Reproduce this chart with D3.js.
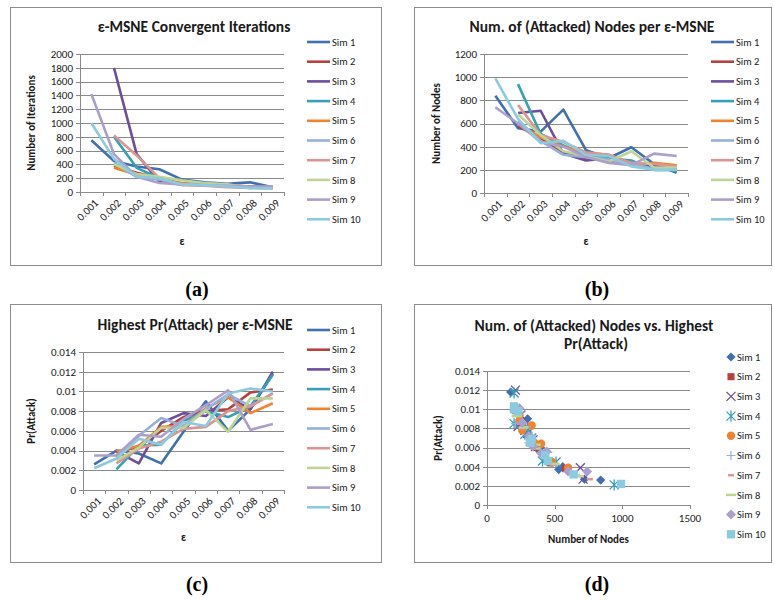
<!DOCTYPE html>
<html><head><meta charset="utf-8">
<script src="https://cdn.jsdelivr.net/npm/d3@7/dist/d3.min.js"></script>
<style>
body{margin:0;background:#fff;}
svg text{font-family:Carlito,Lato,"Liberation Sans",sans-serif;fill:#1a1a1a;}
</style></head><body>
<svg id="c" width="774" height="601"></svg>
<script>
// ---------- DATA ----------
const epsilons = ["0.001","0.002","0.003","0.004","0.005","0.006","0.007","0.008","0.009"];
const simNames = ["Sim 1","Sim 2","Sim 3","Sim 4","Sim 5","Sim 6","Sim 7","Sim 8","Sim 9","Sim 10"];
const simColors = ["#4170B0","#B8413E","#6E4E9A","#35A0B7","#F08230","#95B0DB","#DB9593","#BCD494","#AC9FCB","#8CCBDF"];

// Number of iterations per epsilon (null = no value)
const iterSim1  = [750, 450, 370, 330, 180, 140, 120, 140, 70];
const iterSim2  = [null, 380, 280, 200, 120, 100, 80, 70, 60];
const iterSim3  = [null, 1800, 550, 150, 110, 100, 90, 80, 70];
const iterSim4  = [null, 800, 350, 200, 120, 100, 90, 70, 60];
const iterSim5  = [null, 350, 250, 180, 130, 110, 100, 80, 60];
const iterSim6  = [null, 420, 220, 180, 110, 100, 90, 60, 50];
const iterSim7  = [null, 820, 530, 200, 100, 90, 70, 60, 80];
const iterSim8  = [null, 400, 260, 220, 170, 130, 110, 60, 50];
const iterSim9  = [1420, 550, 220, 130, 110, 100, 90, 80, 80];
const iterSim10 = [1000, 480, 220, 200, 110, 100, 80, 60, 50];

// Number of (attacked) nodes per epsilon
const nodesSim1  = [840, 560, 530, 720, 370, 300, 395, 250, 175];
const nodesSim2  = [null, 580, 470, 350, 300, 280, 260, 210, 200];
const nodesSim3  = [null, 690, 710, 340, 280, 300, 250, 230, 210];
const nodesSim4  = [null, 940, 510, 410, 330, 300, 280, 200, 200];
const nodesSim5  = [null, 600, 480, 400, 350, 330, 240, 260, 240];
const nodesSim6  = [null, 620, 450, 330, 310, 290, 250, 210, 200];
const nodesSim7  = [null, 760, 500, 440, 350, 330, 260, 250, 230];
const nodesSim8  = [null, 680, 500, 360, 320, 270, 360, 220, 220];
const nodesSim9  = [740, 600, 440, 400, 310, 260, 240, 340, 320];
const nodesSim10 = [990, 640, 430, 450, 330, 320, 230, 200, 200];

// Highest Pr(Attack) per epsilon
const prSim1  = [0.0026, 0.0040, 0.0037, 0.0027, 0.0059, 0.0090, 0.0060, 0.0082, 0.0118];
const prSim2  = [null, 0.0038, 0.0044, 0.0060, 0.0074, 0.0080, 0.0082, 0.0099, 0.0102];
const prSim3  = [null, 0.0039, 0.0027, 0.0068, 0.0078, 0.0075, 0.0094, 0.0082, 0.0120];
const prSim4  = [null, 0.0021, 0.0045, 0.0046, 0.0070, 0.0080, 0.0074, 0.0085, 0.0117];
const prSim5  = [null, 0.0039, 0.0045, 0.0064, 0.0065, 0.0083, 0.0094, 0.0078, 0.0088];
const prSim6  = [null, 0.0033, 0.0055, 0.0073, 0.0065, 0.0082, 0.0097, 0.0085, 0.0098];
const prSim7  = [null, 0.0027, 0.0042, 0.0049, 0.0062, 0.0064, 0.0080, 0.0085, 0.0098];
const prSim8  = [null, 0.0030, 0.0043, 0.0063, 0.0063, 0.0081, 0.0059, 0.0093, 0.0093];
const prSim9  = [0.0035, 0.0035, 0.0056, 0.0054, 0.0072, 0.0086, 0.0101, 0.0061, 0.0067];
const prSim10 = [0.0022, 0.0032, 0.0052, 0.0046, 0.0069, 0.0065, 0.0098, 0.0103, 0.0100];

const iterTicks  = [0,200,400,600,800,1000,1200,1400,1600,1800,2000];
const nodeTicks  = [0,200,400,600,800,1000,1200];
const prTicks    = [0,0.002,0.004,0.006,0.008,0.01,0.012,0.014];
const prTickLabels = ["0","0.002","0.004","0.006","0.008","0.01","0.012","0.014"];
const nodeXTicks = [0,500,1000,1500];

const iterations = [iterSim1,iterSim2,iterSim3,iterSim4,iterSim5,iterSim6,iterSim7,iterSim8,iterSim9,iterSim10];
const nodes = [nodesSim1,nodesSim2,nodesSim3,nodesSim4,nodesSim5,nodesSim6,nodesSim7,nodesSim8,nodesSim9,nodesSim10];
const prAttack = [prSim1,prSim2,prSim3,prSim4,prSim5,prSim6,prSim7,prSim8,prSim9,prSim10];

// ---------- DRAW ----------
const svg = d3.select("#c");
const GRID = "#8a8a8a";
const FRAME = "#8c8c8c";
const TITLE_FS = "15.5px";

function frame(x0,y0,x1,y1,label,labelX,labelY){
  svg.append("rect").attr("x",x0+0.5).attr("y",y0+0.5).attr("width",x1-x0).attr("height",y1-y0)
    .attr("fill","#fff").attr("stroke",FRAME).attr("stroke-width",1);
  svg.append("text").attr("x",labelX).attr("y",labelY).attr("text-anchor","middle")
    .style("font-family","'Liberation Serif','DejaVu Serif',serif").style("font-weight","bold")
    .style("font-size","20px").style("fill","#000").text(label);
}

function yAxisGrid(g, y, ticks, labels, x0, x1){
  ticks.forEach((t,i)=>{
    g.append("line").attr("x1",x0).attr("x2",x1).attr("y1",Math.round(y(t))+0.5).attr("y2",Math.round(y(t))+0.5)
      .attr("stroke",GRID).attr("stroke-width",1);
    g.append("line").attr("x1",x0-4).attr("x2",x0).attr("y1",Math.round(y(t))+0.5).attr("y2",Math.round(y(t))+0.5)
      .attr("stroke",GRID);
    g.append("text").attr("x",x0-7).attr("y",y(t)).attr("dy","0.35em").attr("text-anchor","end")
      .style("font-size","11px").text(labels ? labels[i] : t);
  });
  g.append("line").attr("x1",x0+0.5).attr("x2",x0+0.5).attr("y1",y(ticks[ticks.length-1])).attr("y2",y(0)+4)
    .attr("stroke",GRID);
}

function lineChart(cfg){
  const g = svg.append("g");
  const x = d3.scaleBand().domain(epsilons).range([cfg.x0,cfg.x1]);
  const y = d3.scaleLinear().domain([0,cfg.ymax]).range([cfg.y1,cfg.y0]);
  yAxisGrid(g, y, cfg.ticks, cfg.tickLabels, cfg.x0, cfg.x1);
  const bounds = epsilons.map(e=>x(e)).concat([cfg.x1]);
  bounds.forEach(b=>{
    g.append("line").attr("x1",Math.round(b)+0.5).attr("x2",Math.round(b)+0.5).attr("y1",y(0)).attr("y2",y(0)+4).attr("stroke",GRID);
  });
  epsilons.forEach(e=>{
    const cx = x(e)+x.bandwidth()/2+5, cy = y(0)+9;
    g.append("text").attr("transform",`translate(${cx},${cy}) rotate(-45)`).attr("text-anchor","end")
      .attr("dy","0.35em").style("font-size","11px").text(e);
  });
  const line = d3.line().defined(d=>d.v!=null).x(d=>x(d.e)+x.bandwidth()/2).y(d=>y(d.v));
  cfg.data.forEach((s,i)=>{
    g.append("path").datum(s.map((v,j)=>({e:epsilons[j],v})))
      .attr("d",line).attr("fill","none").attr("stroke",simColors[i]).attr("stroke-width",2.6)
      .attr("stroke-linejoin","round");
  });
  g.append("text").attr("x",cfg.titleX).attr("y",cfg.titleY).attr("text-anchor","middle")
    .style("font-size",TITLE_FS).style("font-weight","bold").text(cfg.title);
  g.append("text").attr("transform",`translate(${cfg.ylabX},${(cfg.y0+cfg.y1)/2}) rotate(-90)`)
    .attr("text-anchor","middle").style("font-size","11px").style("font-weight","bold").text(cfg.ylabel);
  g.append("text").attr("x",(cfg.x0+cfg.x1)/2).attr("y",cfg.xlabY).attr("text-anchor","middle")
    .style("font-size","11px").style("font-weight","bold").text("ε");
  simNames.forEach((n,i)=>{
    const ly = cfg.legY + i*19.7;
    g.append("line").attr("x1",cfg.legX).attr("x2",cfg.legX+23).attr("y1",ly).attr("y2",ly)
      .attr("stroke",simColors[i]).attr("stroke-width",2.6);
    g.append("text").attr("x",cfg.legX+25).attr("y",ly).attr("dy","0.35em").style("font-size","10.5px").text(n);
  });
}

frame(10,7,381,265,"(a)",197,296);
frame(414,7,771,265,"(b)",597,296);
frame(10,304,381,562,"(c)",197,591);
frame(414,304,771,562,"(d)",597,591);

lineChart({x0:80,x1:284,y0:54,y1:192,ymax:2000,ticks:iterTicks,data:iterations,
  title:"ε-MSNE Convergent Iterations",titleX:194,titleY:32,ylabel:"Number of Iterations",ylabX:35,xlabY:245,
  legX:307,legY:42});
lineChart({x0:484,x1:688,y0:54,y1:193,ymax:1200,ticks:nodeTicks,data:nodes,
  title:"Num. of (Attacked) Nodes per ε-MSNE",titleX:592,titleY:32,ylabel:"Number of Nodes",ylabX:440,xlabY:245,
  legX:711,legY:42});
lineChart({x0:83,x1:284,y0:352,y1:490,ymax:0.014,ticks:prTicks,tickLabels:prTickLabels,data:prAttack,
  title:"Highest Pr(Attack) per ε-MSNE",titleX:195,titleY:330,ylabel:"Pr(Attack)",ylabX:35,xlabY:541,
  legX:307,legY:330});

// ---------- SCATTER (d) ----------
(function(){
  const g = svg.append("g");
  const x0=487,x1=690,y0=371,y1=505;
  const x = d3.scaleLinear().domain([0,1500]).range([x0,x1]);
  const y = d3.scaleLinear().domain([0,0.014]).range([y1,y0]);
  yAxisGrid(g, y, prTicks, prTickLabels, x0, x1);
  g.append("line").attr("x1",x0).attr("x2",x1).attr("y1",Math.round(y(0))+0.5).attr("y2",Math.round(y(0))+0.5).attr("stroke",GRID);
  nodeXTicks.forEach(t=>{
    g.append("line").attr("x1",Math.round(x(t))+0.5).attr("x2",Math.round(x(t))+0.5).attr("y1",y(0)).attr("y2",y(0)+4).attr("stroke",GRID);
    g.append("text").attr("x",x(t)).attr("y",y(0)+17).attr("text-anchor","middle").style("font-size","11px").text(t);
  });
  const cross = s=>`M${-s},${-s}L${s},${s}M${-s},${s}L${s},${-s}`;
  const diamond = s=>`M0,${-s}L${s},0L0,${s}L${-s},0Z`;
  const shapes = [
    {t:"fill",d:diamond(4.6)},
    {t:"sym",s:d3.symbolSquare,size:50},
    {t:"path",d:cross(4.5),w:1.3},
    {t:"path",d:cross(4.5)+"M0,-5.5L0,5.5",w:1.3},
    {t:"sym",s:d3.symbolCircle,size:55},
    {t:"path",d:"M-4.5,0L4.5,0M0,-4.5L0,4.5",w:1.2},
    {t:"path",d:"M-3,0L3,0",w:2.5},
    {t:"path",d:"M-5,0L5,0",w:2.5},
    {t:"fill",d:diamond(5)},
    {t:"sym",s:d3.symbolSquare,size:70}
  ];
  function mark(sel,i){
    const sh = shapes[i];
    if(sh.t==="sym") sel.append("path").attr("d",d3.symbol().type(sh.s).size(sh.size)()).attr("fill",simColors[i]);
    else if(sh.t==="fill") sel.append("path").attr("d",sh.d).attr("fill",simColors[i]);
    else sel.append("path").attr("d",sh.d).attr("fill","none").attr("stroke",simColors[i]).attr("stroke-width",sh.w);
  }
  nodes.forEach((ns,i)=>{
    ns.forEach((n,j)=>{
      const p = prAttack[i][j];
      if(n==null||p==null) return;
      const m = g.append("g").attr("transform",`translate(${x(n)},${y(p)})`);
      mark(m,i);
    });
  });
  g.append("text").attr("x",594).attr("y",331).attr("text-anchor","middle").style("font-size",TITLE_FS).style("font-weight","bold")
    .text("Num. of (Attacked) Nodes vs. Highest");
  g.append("text").attr("x",596).attr("y",349).attr("text-anchor","middle").style("font-size",TITLE_FS).style("font-weight","bold")
    .text("Pr(Attack)");
  g.append("text").attr("transform",`translate(442,${(y0+y1)/2}) rotate(-90)`).attr("text-anchor","middle")
    .style("font-size","11px").style("font-weight","bold").text("Pr(Attack)");
  g.append("text").attr("x",(x0+x1)/2).attr("y",543).attr("text-anchor","middle")
    .style("font-size","11px").style("font-weight","bold").text("Number of Nodes");
  simNames.forEach((n,i)=>{
    const ly = 357 + i*19.7;
    const m = g.append("g").attr("transform",`translate(731,${ly})`);
    mark(m,i);
    g.append("text").attr("x",737).attr("y",ly).attr("dy","0.35em").style("font-size","10.5px").text(n);
  });
})();
</script></body></html>
